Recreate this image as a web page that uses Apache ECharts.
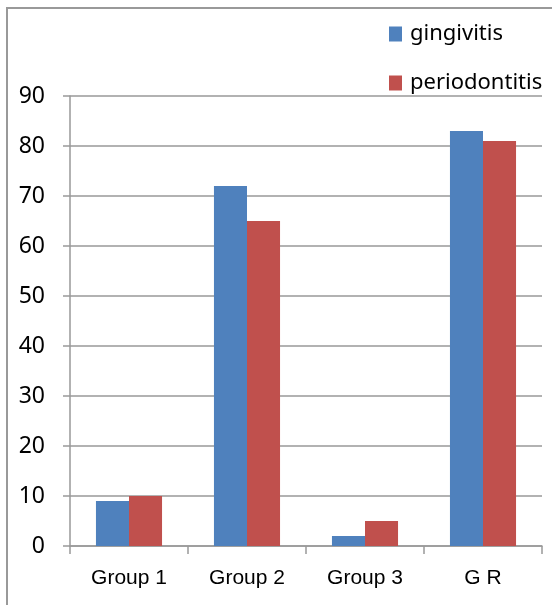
<!DOCTYPE html>
<html>
<head>
<meta charset="utf-8">
<script src="https://cdn.jsdelivr.net/npm/echarts@6/dist/echarts.min.js"></script>
<style>html,body{margin:0;padding:0;background:#fff;}#c{width:552px;height:605px;}</style>
</head>
<body>
<div id="c"></div>
<script>
const categories = ["Group 1", "Group 2", "Group 3", "G R"];
const gingivitis = [9, 72, 2, 83];
const periodontitis = [10, 65, 5, 81];
const yTicks = [0, 10, 20, 30, 40, 50, 60, 70, 80, 90];

const chart = echarts.init(document.getElementById('c'), null, {renderer: 'canvas'});
chart.setOption({
  animation: false,
  backgroundColor: '#fff',
  graphic: [{
    type: 'rect', shape: {x: 7, y: 8, width: 560, height: 620},
    style: {fill: 'none', stroke: '#999', lineWidth: 2}, silent: true
  }],
  grid: {left: 70, right: 10, top: 96, bottom: 59, containLabel: false},
  legend: {
    orient: 'vertical', left: 384, top: 18, itemWidth: 13, itemHeight: 15, itemGap: 27,
    icon: 'rect',
    textStyle: {fontFamily: 'Noto Sans', fontSize: 22, color: '#000', padding: [0,0,0,3]},
    data: ['gingivitis', 'periodontitis']
  },
  xAxis: {
    type: 'category', data: categories,
    axisLine: {lineStyle: {color: '#999', width: 1.5}},
    axisTick: {show: true, length: 8, alignWithLabel: false, lineStyle: {color: '#999', width: 1.5}},
    axisLabel: {fontFamily: 'Liberation Sans', fontSize: 21, color: '#000', margin: 22}
  },
  yAxis: {
    type: 'value', min: yTicks[0], max: yTicks[yTicks.length - 1], interval: 10,
    axisLine: {show: true, lineStyle: {color: '#999', width: 1.5}},
    axisTick: {show: true, length: 7, lineStyle: {color: '#999', width: 1.5}},
    splitLine: {lineStyle: {color: '#999', width: 1.5}},
    axisLabel: {fontFamily: 'Noto Sans', fontSize: 23, color: '#000', margin: 25}
  },
  series: [
    {name: 'gingivitis', type: 'bar', data: gingivitis, barGap: '0%', barCategoryGap: '44%',
     itemStyle: {color: '#4F81BD'}},
    {name: 'periodontitis', type: 'bar', data: periodontitis, barGap: '0%', barCategoryGap: '44%',
     itemStyle: {color: '#C0504D'}}
  ]
});
</script>
</body>
</html>
